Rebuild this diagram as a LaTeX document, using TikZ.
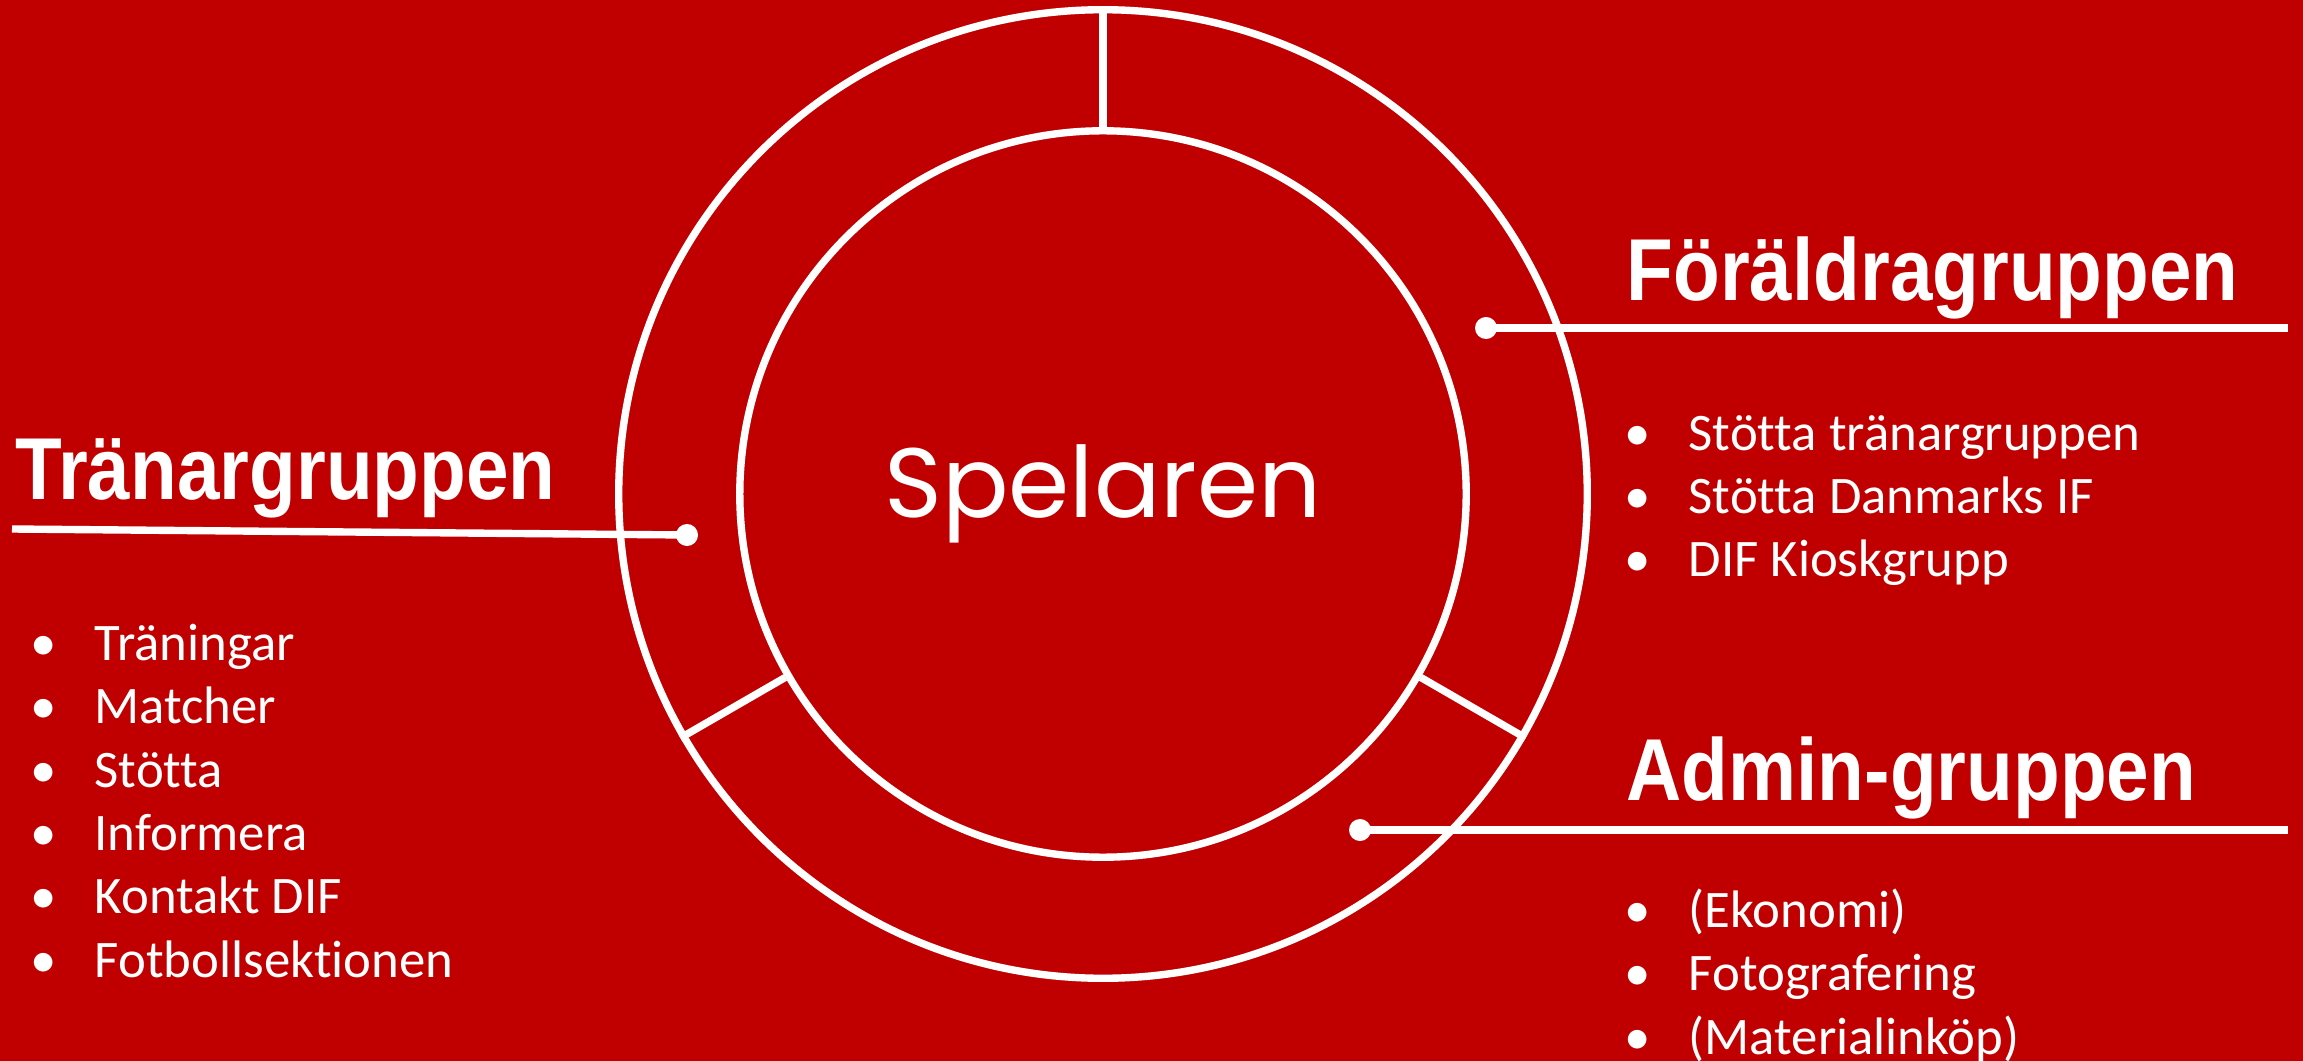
\documentclass[tikz,border=0pt]{standalone}
\usepackage{fontspec}
\setmainfont{Carlito}[Ligatures=NoCommon]
\newfontfamily\headfont{Liberation Sans}[FakeStretch=0.87]
\newfontfamily\handfont{Poppins}
\definecolor{Club}{HTML}{C00000}
\newcommand\bul{\makebox[0.64cm][l]{\textbullet}}

\begin{document}
\begin{tikzpicture}[x=0.01cm,y=-0.01cm,
  ring/.style={circle,draw=white,line width=2.1pt,inner sep=0pt},
  wire/.style={white,line width=2.1pt},
  dot/.style={circle,fill=white,inner sep=0pt,minimum size=0.22cm},
  head/.style={text=white,font=\headfont\bfseries\fontsize{25}{30}\selectfont,anchor=base west,inner sep=0pt},
  list/.style={text=white,font=\fontsize{15}{18}\selectfont,align=left,anchor=base west,inner sep=0pt}]
\fill[Club] (0,0) rectangle (2303,1061);
\useasboundingbox (0,0) rectangle (2303,1061);
% the player in the middle
\node[ring,minimum size=9.68cm] (outer) at (1103,494) {};
\node[ring,minimum size=7.26cm,text=white,font=\handfont\fontsize{28}{32}\selectfont] (inner) at (1103,494) {Spelaren};
\draw[wire] (inner.90) -- (outer.90);
\draw[wire] (inner.210) -- (outer.210);
\draw[wire] (inner.330) -- (outer.330);
% the three groups
\node[dot] (coachdot) at (687,535) {};
\coordinate (coachend) at (12,529);
\draw[wire] (coachdot.center) -- (coachend);
\node[dot] (parentdot) at (1486,328) {};
\coordinate (parentend) at (2288,328);
\draw[wire] (parentdot.center) -- (parentend);
\node[dot] (admindot) at (1360,830) {};
\coordinate (adminend) at (2288,830);
\draw[wire] (admindot.center) -- (adminend);
\node[head] (coach) at (15,499) {Tränargruppen};
\node[head] (parent) at (1626,301) {Föräldragruppen};
\node[head] (admin) at (1626,800) {Admin-gruppen};
% lists sit on the baseline of their last line
\node[list] (coachlist) at (30,977) {\bul Träningar\\ \bul Matcher\\ \bul Stötta\\ \bul Informera\\ \bul Kontakt DIF\\ \bul Fotbollsektionen};
\node[list] (parentlist) at (1624,577) {\bul Stötta tränargruppen\\ \bul Stötta Danmarks IF\\ \bul DIF Kioskgrupp};
\node[list] (adminlist) at (1624,1054) {\bul (Ekonomi)\\ \bul Fotografering\\ \bul (Materialinköp)};
\end{tikzpicture}
\end{document}
